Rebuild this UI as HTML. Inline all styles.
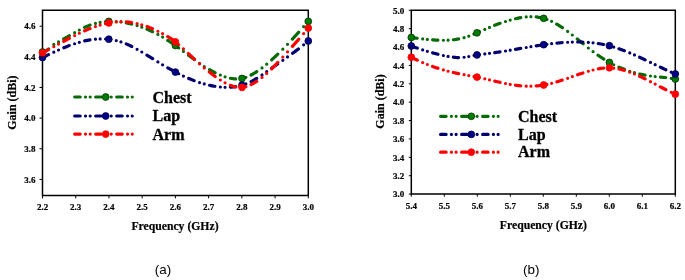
<!DOCTYPE html>
<html><head><meta charset="utf-8"><style>
html,body{margin:0;padding:0;background:#fff;}
body{width:685px;height:280px;overflow:hidden;}
svg{display:block;}
</style></head><body>
<svg width="685" height="280" viewBox="0 0 685 280">
<rect width="685" height="280" fill="#fff"/>
<path d="M42.50,10.30 H308.30 V195.40 H42.50 Z" fill="none" stroke="#000" stroke-width="1.5"/>
<path d="M42.88,51.99 L44.29,51.67 L45.70,51.00 L47.11,50.05 L48.52,48.91 M53.80,44.47h0.01 M58.50,41.81h0.01 M63.70,38.97 L65.11,38.17 L66.52,37.35 L67.93,36.53 L69.34,35.71 M74.62,32.64h0.01 M79.32,30.04h0.01 M84.62,27.38 L85.98,26.76 L87.34,26.18 L88.70,25.63 L90.06,25.11 M95.44,23.43h0.01 M100.14,22.39h0.01 M105.56,21.66 L106.86,21.55 L108.16,21.47 L109.46,21.42 L110.76,21.40 M116.26,21.55h0.01 M120.96,22.01h0.01 M126.34,22.88 L127.66,23.14 L128.98,23.43 L130.30,23.73 L131.62,24.05 M137.08,25.58h0.01 M141.78,27.15h0.01 M147.06,29.22 L148.43,29.81 L149.80,30.41 L151.17,31.04 L152.54,31.69 M157.90,34.44h0.01 M162.60,37.12h0.01 M167.75,40.34 L169.18,41.28 L170.62,42.24 L172.06,43.22 L173.49,44.22 M178.72,47.94h0.01 M183.42,51.39h0.01 M188.52,55.20 L189.98,56.29 L191.44,57.38 L192.90,58.47 L194.36,59.55 M199.54,63.29h0.01 M204.24,66.49h0.01 M209.47,69.72 L210.87,70.51 L212.26,71.27 L213.65,72.00 L215.05,72.70 M220.36,75.09h0.01 M225.06,76.83h0.01 M230.47,78.26 L231.77,78.49 L233.08,78.67 L234.39,78.80 L235.69,78.87 M241.18,78.52h0.01 M245.88,77.30h0.01 M251.08,75.02 L252.49,74.26 L253.90,73.45 L255.31,72.59 L256.72,71.69 M262.00,67.96h0.01 M266.70,64.22h0.01 M271.69,59.89 L272.90,58.79 L274.11,57.67 L275.33,56.53 L276.54,55.37 L277.75,54.20 M282.82,49.17h0.01 M287.52,44.32h0.01 M292.42,39.11 L293.67,37.76 L294.92,36.40 L296.16,35.04 L297.41,33.66 L298.66,32.28 M303.64,26.70h0.01" fill="none" stroke="#066a06" stroke-width="3.2" stroke-linecap="round" stroke-linejoin="round"/>
<circle cx="42.50" cy="52.00" r="3.4" fill="#007a00" stroke="#003800" stroke-width="0.8"/>
<circle cx="108.80" cy="21.40" r="3.4" fill="#007a00" stroke="#003800" stroke-width="0.8"/>
<circle cx="175.40" cy="45.50" r="3.4" fill="#007a00" stroke="#003800" stroke-width="0.8"/>
<circle cx="242.00" cy="78.40" r="3.4" fill="#007a00" stroke="#003800" stroke-width="0.8"/>
<circle cx="308.30" cy="21.40" r="3.4" fill="#007a00" stroke="#003800" stroke-width="0.8"/>
<path d="M42.94,57.40 L44.32,56.71 L45.70,56.03 L47.08,55.35 L48.46,54.68 M53.80,52.14h0.01 M58.50,50.01h0.01 M63.81,47.74 L65.16,47.19 L66.52,46.65 L67.88,46.13 L69.23,45.62 M74.62,43.73h0.01 M79.32,42.30h0.01 M84.71,40.93 L86.03,40.64 L87.34,40.37 L88.65,40.13 L89.97,39.90 M95.44,39.20h0.01 M100.14,38.92h0.01 M105.55,39.01 L106.86,39.09 L108.16,39.21 L109.46,39.35 L110.77,39.53 M116.26,40.58h0.01 M120.96,41.91h0.01 M126.23,43.90 L127.61,44.50 L128.98,45.12 L130.35,45.77 L131.73,46.45 M137.08,49.30h0.01 M141.78,52.01h0.01 M146.96,55.16 L148.38,56.04 L149.80,56.92 L151.22,57.80 L152.64,58.69 M157.90,61.94h0.01 M162.60,64.78h0.01 M167.82,67.84 L169.22,68.64 L170.62,69.43 L172.02,70.21 L173.42,70.98 M178.72,73.77h0.01 M183.42,76.08h0.01 M188.72,78.46 L190.08,79.03 L191.44,79.58 L192.80,80.12 L194.16,80.64 M199.54,82.53h0.01 M204.24,83.94h0.01 M209.63,85.28 L210.95,85.56 L212.26,85.82 L213.57,86.07 L214.89,86.29 M220.36,86.99h0.01 M225.06,87.28h0.01 M230.47,87.19 L231.78,87.10 L233.08,86.97 L234.38,86.81 L235.69,86.62 M241.18,85.44h0.01 M245.88,83.90h0.01 M251.09,81.58 L252.49,80.84 L253.90,80.06 L255.31,79.23 L256.71,78.37 M262.00,74.90h0.01 M266.70,71.63h0.01 M271.83,68.02 L273.27,67.01 L274.72,65.99 L276.17,64.97 L277.61,63.95 M282.82,60.28h0.01 M287.52,56.96h0.01 M292.62,53.29 L294.08,52.22 L295.54,51.14 L297.00,50.05 L298.46,48.94 M303.64,44.87h0.01" fill="none" stroke="#00006e" stroke-width="3.2" stroke-linecap="round" stroke-linejoin="round"/>
<circle cx="42.50" cy="57.60" r="3.4" fill="#000088" stroke="#000040" stroke-width="0.8"/>
<circle cx="108.80" cy="39.20" r="3.4" fill="#000088" stroke="#000040" stroke-width="0.8"/>
<circle cx="175.40" cy="72.10" r="3.4" fill="#000088" stroke="#000040" stroke-width="0.8"/>
<circle cx="242.00" cy="85.20" r="3.4" fill="#000088" stroke="#000040" stroke-width="0.8"/>
<circle cx="308.30" cy="41.00" r="3.4" fill="#000088" stroke="#000040" stroke-width="0.8"/>
<path d="M42.90,52.70 L44.30,51.94 L45.70,51.18 L47.10,50.42 L48.50,49.65 M53.80,46.72h0.01 M58.50,44.12h0.01 M63.73,41.26 L65.13,40.50 L66.52,39.75 L67.91,39.01 L69.31,38.28 M74.62,35.55h0.01 M79.32,33.25h0.01 M84.62,30.82 L85.98,30.23 L87.34,29.65 L88.70,29.09 L90.06,28.54 M95.44,26.55h0.01 M100.14,25.04h0.01 M105.53,23.62 L106.84,23.33 L108.16,23.06 L109.48,22.81 L110.79,22.58 M116.26,21.91h0.01 M120.96,21.69h0.01 M126.37,21.88 L127.67,21.99 L128.98,22.13 L130.29,22.30 L131.59,22.49 M137.08,23.56h0.01 M141.78,24.82h0.01 M147.09,26.58 L148.44,27.09 L149.80,27.62 L151.16,28.18 L152.51,28.75 M157.90,31.23h0.01 M162.60,33.66h0.01 M167.75,36.60 L169.19,37.49 L170.62,38.43 L172.05,39.40 L173.49,40.42 M178.72,44.60h0.01 M183.42,48.83h0.01 M188.40,53.55 L189.62,54.71 L190.83,55.86 L192.05,57.00 L193.26,58.14 L194.48,59.27 M199.54,63.86h0.01 M204.24,67.93h0.01 M209.34,72.08 L210.80,73.22 L212.26,74.33 L213.72,75.41 L215.18,76.47 M220.36,79.98h0.01 M225.06,82.78h0.01 M230.41,85.34 L231.74,85.84 L233.08,86.28 L234.42,86.66 L235.75,86.97 M241.18,87.41h0.01 M245.88,86.64h0.01 M251.08,84.62 L252.49,83.89 L253.90,83.10 L255.31,82.24 L256.72,81.32 M262.00,77.42h0.01 M266.70,73.42h0.01 M271.64,68.76 L272.87,67.54 L274.10,66.30 L275.34,65.04 L276.57,63.76 L277.80,62.47 M282.82,57.06h0.01 M287.52,51.86h0.01 M292.40,46.40 L293.65,44.98 L294.91,43.55 L296.17,42.13 L297.43,40.69 L298.68,39.25 M303.64,33.54h0.01" fill="none" stroke="#ff0000" stroke-width="3.2" stroke-linecap="round" stroke-linejoin="round"/>
<circle cx="42.50" cy="52.90" r="3.4" fill="#ff0000" stroke="#ff0000" stroke-width="0.8"/>
<circle cx="108.80" cy="22.90" r="3.4" fill="#ff0000" stroke="#ff0000" stroke-width="0.8"/>
<circle cx="175.40" cy="41.80" r="3.4" fill="#ff0000" stroke="#ff0000" stroke-width="0.8"/>
<circle cx="242.00" cy="87.40" r="3.4" fill="#ff0000" stroke="#ff0000" stroke-width="0.8"/>
<circle cx="308.30" cy="28.10" r="3.4" fill="#ff0000" stroke="#ff0000" stroke-width="0.8"/>
<line x1="42.50" y1="195.40" x2="42.50" y2="198.40" stroke="#000" stroke-width="1"/>
<text x="42.50" y="210.30" text-anchor="middle" font-size="9" font-weight="bold" stroke="#000" stroke-width="0.2" font-family="'Liberation Serif', serif">2.2</text>
<line x1="75.72" y1="195.40" x2="75.72" y2="198.40" stroke="#000" stroke-width="1"/>
<text x="75.72" y="210.30" text-anchor="middle" font-size="9" font-weight="bold" stroke="#000" stroke-width="0.2" font-family="'Liberation Serif', serif">2.3</text>
<line x1="108.95" y1="195.40" x2="108.95" y2="198.40" stroke="#000" stroke-width="1"/>
<text x="108.95" y="210.30" text-anchor="middle" font-size="9" font-weight="bold" stroke="#000" stroke-width="0.2" font-family="'Liberation Serif', serif">2.4</text>
<line x1="142.18" y1="195.40" x2="142.18" y2="198.40" stroke="#000" stroke-width="1"/>
<text x="142.18" y="210.30" text-anchor="middle" font-size="9" font-weight="bold" stroke="#000" stroke-width="0.2" font-family="'Liberation Serif', serif">2.5</text>
<line x1="175.40" y1="195.40" x2="175.40" y2="198.40" stroke="#000" stroke-width="1"/>
<text x="175.40" y="210.30" text-anchor="middle" font-size="9" font-weight="bold" stroke="#000" stroke-width="0.2" font-family="'Liberation Serif', serif">2.6</text>
<line x1="208.62" y1="195.40" x2="208.62" y2="198.40" stroke="#000" stroke-width="1"/>
<text x="208.62" y="210.30" text-anchor="middle" font-size="9" font-weight="bold" stroke="#000" stroke-width="0.2" font-family="'Liberation Serif', serif">2.7</text>
<line x1="241.85" y1="195.40" x2="241.85" y2="198.40" stroke="#000" stroke-width="1"/>
<text x="241.85" y="210.30" text-anchor="middle" font-size="9" font-weight="bold" stroke="#000" stroke-width="0.2" font-family="'Liberation Serif', serif">2.8</text>
<line x1="275.08" y1="195.40" x2="275.08" y2="198.40" stroke="#000" stroke-width="1"/>
<text x="275.08" y="210.30" text-anchor="middle" font-size="9" font-weight="bold" stroke="#000" stroke-width="0.2" font-family="'Liberation Serif', serif">2.9</text>
<line x1="308.30" y1="195.40" x2="308.30" y2="198.40" stroke="#000" stroke-width="1"/>
<text x="308.30" y="210.30" text-anchor="middle" font-size="9" font-weight="bold" stroke="#000" stroke-width="0.2" font-family="'Liberation Serif', serif">3.0</text>
<line x1="39.50" y1="179.40" x2="42.50" y2="179.40" stroke="#000" stroke-width="1"/>
<text x="35.50" y="182.60" text-anchor="end" font-size="9" font-weight="bold" stroke="#000" stroke-width="0.2" font-family="'Liberation Serif', serif">3.6</text>
<line x1="39.50" y1="148.76" x2="42.50" y2="148.76" stroke="#000" stroke-width="1"/>
<text x="35.50" y="151.96" text-anchor="end" font-size="9" font-weight="bold" stroke="#000" stroke-width="0.2" font-family="'Liberation Serif', serif">3.8</text>
<line x1="39.50" y1="118.12" x2="42.50" y2="118.12" stroke="#000" stroke-width="1"/>
<text x="35.50" y="121.32" text-anchor="end" font-size="9" font-weight="bold" stroke="#000" stroke-width="0.2" font-family="'Liberation Serif', serif">4.0</text>
<line x1="39.50" y1="87.48" x2="42.50" y2="87.48" stroke="#000" stroke-width="1"/>
<text x="35.50" y="90.68" text-anchor="end" font-size="9" font-weight="bold" stroke="#000" stroke-width="0.2" font-family="'Liberation Serif', serif">4.2</text>
<line x1="39.50" y1="56.84" x2="42.50" y2="56.84" stroke="#000" stroke-width="1"/>
<text x="35.50" y="60.04" text-anchor="end" font-size="9" font-weight="bold" stroke="#000" stroke-width="0.2" font-family="'Liberation Serif', serif">4.4</text>
<line x1="39.50" y1="26.20" x2="42.50" y2="26.20" stroke="#000" stroke-width="1"/>
<text x="35.50" y="29.40" text-anchor="end" font-size="9" font-weight="bold" stroke="#000" stroke-width="0.2" font-family="'Liberation Serif', serif">4.6</text>
<text x="175.00" y="229.60" text-anchor="middle" font-size="11.7" font-weight="bold" stroke="#000" stroke-width="0.2" font-family="'Liberation Serif', serif">Frequency (GHz)</text>
<text transform="translate(15.90,102.60) rotate(-90)" text-anchor="middle" font-size="12" font-weight="bold" stroke="#000" stroke-width="0.2" font-family="'Liberation Serif', serif">Gain (dBi)</text>
<line x1="74.70" y1="97.00" x2="133.00" y2="97.00" stroke="#066a06" stroke-width="3.2" stroke-dasharray="5.5 5.3 0.01 4.69 0.01 5.5" stroke-linecap="round"/>
<circle cx="105.70" cy="97.00" r="3.4" fill="#007a00" stroke="#003800" stroke-width="0.8"/>
<text x="152.50" y="102.80" font-size="16" font-weight="bold" stroke="#000" stroke-width="0.3" font-family="'Liberation Serif', serif">Chest</text>
<line x1="74.70" y1="116.00" x2="133.00" y2="116.00" stroke="#00006e" stroke-width="3.2" stroke-dasharray="5.5 5.3 0.01 4.69 0.01 5.5" stroke-linecap="round"/>
<circle cx="105.70" cy="116.00" r="3.4" fill="#000088" stroke="#000040" stroke-width="0.8"/>
<text x="152.50" y="121.20" font-size="16" font-weight="bold" stroke="#000" stroke-width="0.3" font-family="'Liberation Serif', serif">Lap</text>
<line x1="74.70" y1="134.10" x2="133.00" y2="134.10" stroke="#ff0000" stroke-width="3.2" stroke-dasharray="5.5 5.3 0.01 4.69 0.01 5.5" stroke-linecap="round"/>
<circle cx="105.70" cy="134.10" r="3.4" fill="#ff0000" stroke="#ff0000" stroke-width="0.8"/>
<text x="152.50" y="139.80" font-size="16" font-weight="bold" stroke="#000" stroke-width="0.3" font-family="'Liberation Serif', serif">Arm</text>
<text x="163.00" y="273.70" text-anchor="middle" font-size="13.4" font-family="'Liberation Sans', sans-serif">(a)</text>
<path d="M411.30,10.30 H675.30 V194.10 H411.30 Z" fill="none" stroke="#000" stroke-width="1.5"/>
<path d="M411.95,37.59 L413.25,37.76 L414.56,37.92 L415.87,38.09 L417.17,38.25 M422.66,38.91h0.01 M427.36,39.41h0.01 M432.67,39.87 L433.97,39.96 L435.27,40.04 L436.57,40.10 L437.87,40.16 M443.37,40.26h0.01 M448.07,40.14h0.01 M453.36,39.73 L454.67,39.58 L455.98,39.40 L457.29,39.19 L458.60,38.96 M464.08,37.68h0.01 M468.78,36.15h0.01 M473.96,34.13 L475.32,33.55 L476.69,32.96 L478.06,32.36 L479.42,31.76 M484.79,29.39h0.01 M489.49,27.39h0.01 M494.70,25.30 L496.05,24.78 L497.40,24.28 L498.75,23.78 L500.10,23.30 M505.50,21.49h0.01 M510.20,20.09h0.01 M515.48,18.74 L516.79,18.44 L518.11,18.16 L519.43,17.90 L520.74,17.66 M526.21,16.93h0.01 M530.91,16.69h0.01 M536.20,16.96 L537.51,17.12 L538.82,17.31 L540.13,17.55 L541.44,17.82 M546.92,19.40h0.01 M551.62,21.35h0.01 M556.68,24.06 L558.10,24.92 L559.53,25.82 L560.96,26.75 L562.38,27.70 M567.63,31.43h0.01 M572.33,35.01h0.01 M577.28,38.99 L578.76,40.20 L580.24,41.42 L581.72,42.64 L583.20,43.85 M588.34,48.00h0.01 M593.04,51.63h0.01 M598.08,55.28 L599.52,56.27 L600.95,57.24 L602.38,58.19 L603.82,59.11 M609.05,62.25h0.01 M613.75,64.76h0.01 M618.95,67.18 L620.30,67.76 L621.66,68.31 L623.02,68.85 L624.37,69.36 M629.76,71.25h0.01 M634.46,72.71h0.01 M639.74,74.10 L641.05,74.40 L642.37,74.68 L643.69,74.93 L645.00,75.17 M650.47,76.01h0.01 M655.17,76.57h0.01 M660.47,77.11 L661.78,77.25 L663.08,77.38 L664.38,77.52 L665.69,77.66 M671.18,78.35h0.01" fill="none" stroke="#066a06" stroke-width="3.2" stroke-linecap="round" stroke-linejoin="round"/>
<circle cx="411.30" cy="37.50" r="3.4" fill="#007a00" stroke="#003800" stroke-width="0.8"/>
<circle cx="477.00" cy="32.80" r="3.4" fill="#007a00" stroke="#003800" stroke-width="0.8"/>
<circle cx="543.70" cy="18.30" r="3.4" fill="#007a00" stroke="#003800" stroke-width="0.8"/>
<circle cx="609.40" cy="62.40" r="3.4" fill="#007a00" stroke="#003800" stroke-width="0.8"/>
<circle cx="675.30" cy="79.00" r="3.4" fill="#007a00" stroke="#003800" stroke-width="0.8"/>
<path d="M411.87,46.21 L413.21,46.69 L414.56,47.17 L415.91,47.64 L417.25,48.11 M422.66,49.89h0.01 M427.36,51.33h0.01 M432.62,52.84 L433.94,53.20 L435.27,53.55 L436.60,53.89 L437.92,54.23 M443.37,55.49h0.01 M448.07,56.41h0.01 M453.38,57.22 L454.68,57.35 L455.98,57.46 L457.28,57.53 L458.58,57.57 M464.08,57.27h0.01 M468.78,56.53h0.01 M474.07,55.50 L475.38,55.25 L476.69,55.03 L478.00,54.82 L479.31,54.64 M484.79,53.97h0.01 M489.49,53.37h0.01 M494.78,52.64 L496.09,52.44 L497.40,52.25 L498.71,52.05 L500.02,51.85 M505.50,50.98h0.01 M510.20,50.20h0.01 M515.49,49.31 L516.80,49.08 L518.11,48.86 L519.42,48.64 L520.73,48.41 M526.21,47.49h0.01 M530.91,46.71h0.01 M536.20,45.86 L537.51,45.66 L538.82,45.46 L540.13,45.26 L541.44,45.06 M546.92,44.29h0.01 M551.62,43.69h0.01 M556.92,43.10 L558.23,42.97 L559.53,42.85 L560.83,42.73 L562.14,42.62 M567.63,42.25h0.01 M572.33,42.06h0.01 M577.64,41.98 L578.94,41.99 L580.24,42.01 L581.54,42.04 L582.84,42.08 M588.34,42.39h0.01 M593.04,42.84h0.01 M598.32,43.55 L599.64,43.77 L600.95,44.00 L602.26,44.24 L603.58,44.50 M609.05,45.77h0.01 M613.75,47.09h0.01 M618.96,48.79 L620.31,49.26 L621.66,49.75 L623.01,50.25 L624.36,50.77 M629.76,52.94h0.01 M634.46,54.96h0.01 M639.62,57.29 L640.99,57.93 L642.37,58.57 L643.75,59.22 L645.12,59.87 M650.47,62.43h0.01 M655.17,64.69h0.01 M660.33,67.17 L661.70,67.82 L663.08,68.47 L664.46,69.12 L665.83,69.77 M671.18,72.21h0.01" fill="none" stroke="#00006e" stroke-width="3.2" stroke-linecap="round" stroke-linejoin="round"/>
<circle cx="411.30" cy="46.00" r="3.4" fill="#000088" stroke="#000040" stroke-width="0.8"/>
<circle cx="477.00" cy="54.90" r="3.4" fill="#000088" stroke="#000040" stroke-width="0.8"/>
<circle cx="543.70" cy="44.70" r="3.4" fill="#000088" stroke="#000040" stroke-width="0.8"/>
<circle cx="609.40" cy="45.70" r="3.4" fill="#000088" stroke="#000040" stroke-width="0.8"/>
<circle cx="675.30" cy="74.00" r="3.4" fill="#000088" stroke="#000040" stroke-width="0.8"/>
<path d="M411.80,57.49 L413.18,58.19 L414.56,58.87 L415.94,59.53 L417.32,60.18 M422.66,62.57h0.01 M427.36,64.51h0.01 M432.58,66.48 L433.93,66.95 L435.27,67.42 L436.61,67.87 L437.96,68.31 M443.37,69.96h0.01 M448.07,71.23h0.01 M453.34,72.49 L454.66,72.78 L455.98,73.07 L457.30,73.35 L458.62,73.62 M464.08,74.71h0.01 M468.78,75.62h0.01 M474.06,76.65 L475.37,76.90 L476.69,77.17 L478.01,77.43 L479.32,77.70 M484.79,78.86h0.01 M489.49,79.92h0.01 M494.76,81.14 L496.08,81.44 L497.40,81.75 L498.72,82.05 L500.04,82.34 M505.50,83.51h0.01 M510.20,84.40h0.01 M515.50,85.22 L516.81,85.39 L518.11,85.54 L519.41,85.68 L520.72,85.80 M526.21,86.13h0.01 M530.91,86.17h0.01 M536.21,85.93 L537.52,85.82 L538.82,85.69 L540.12,85.53 L541.43,85.36 M546.92,84.40h0.01 M551.62,83.30h0.01 M556.85,81.83 L558.19,81.42 L559.53,81.00 L560.87,80.57 L562.21,80.13 M567.63,78.28h0.01 M572.33,76.62h0.01 M577.56,74.78 L578.90,74.32 L580.24,73.86 L581.58,73.41 L582.92,72.96 M588.34,71.27h0.01 M593.04,70.00h0.01 M598.33,68.86 L599.64,68.64 L600.95,68.44 L602.26,68.27 L603.57,68.13 M609.05,67.89h0.01 M613.75,68.18h0.01 M619.01,69.02 L620.34,69.31 L621.66,69.62 L622.98,69.97 L624.31,70.34 M629.76,72.13h0.01 M634.46,73.98h0.01 M639.61,76.25 L640.99,76.89 L642.37,77.55 L643.75,78.23 L645.13,78.91 M650.47,81.63h0.01 M655.17,84.10h0.01 M660.30,86.80 L661.69,87.53 L663.08,88.25 L664.47,88.97 L665.86,89.68 M671.18,92.31h0.01" fill="none" stroke="#ff0000" stroke-width="3.2" stroke-linecap="round" stroke-linejoin="round"/>
<circle cx="411.30" cy="57.25" r="3.4" fill="#ff0000" stroke="#ff0000" stroke-width="0.8"/>
<circle cx="477.00" cy="77.10" r="3.4" fill="#ff0000" stroke="#ff0000" stroke-width="0.8"/>
<circle cx="543.70" cy="85.00" r="3.4" fill="#ff0000" stroke="#ff0000" stroke-width="0.8"/>
<circle cx="609.40" cy="67.80" r="3.4" fill="#ff0000" stroke="#ff0000" stroke-width="0.8"/>
<circle cx="675.30" cy="94.20" r="3.4" fill="#ff0000" stroke="#ff0000" stroke-width="0.8"/>
<line x1="411.30" y1="194.10" x2="411.30" y2="196.70" stroke="#000" stroke-width="1"/>
<text x="411.30" y="209.00" text-anchor="middle" font-size="9" font-weight="bold" stroke="#000" stroke-width="0.2" font-family="'Liberation Serif', serif">5.4</text>
<line x1="444.30" y1="194.10" x2="444.30" y2="196.70" stroke="#000" stroke-width="1"/>
<text x="444.30" y="209.00" text-anchor="middle" font-size="9" font-weight="bold" stroke="#000" stroke-width="0.2" font-family="'Liberation Serif', serif">5.5</text>
<line x1="477.30" y1="194.10" x2="477.30" y2="196.70" stroke="#000" stroke-width="1"/>
<text x="477.30" y="209.00" text-anchor="middle" font-size="9" font-weight="bold" stroke="#000" stroke-width="0.2" font-family="'Liberation Serif', serif">5.6</text>
<line x1="510.30" y1="194.10" x2="510.30" y2="196.70" stroke="#000" stroke-width="1"/>
<text x="510.30" y="209.00" text-anchor="middle" font-size="9" font-weight="bold" stroke="#000" stroke-width="0.2" font-family="'Liberation Serif', serif">5.7</text>
<line x1="543.30" y1="194.10" x2="543.30" y2="196.70" stroke="#000" stroke-width="1"/>
<text x="543.30" y="209.00" text-anchor="middle" font-size="9" font-weight="bold" stroke="#000" stroke-width="0.2" font-family="'Liberation Serif', serif">5.8</text>
<line x1="576.30" y1="194.10" x2="576.30" y2="196.70" stroke="#000" stroke-width="1"/>
<text x="576.30" y="209.00" text-anchor="middle" font-size="9" font-weight="bold" stroke="#000" stroke-width="0.2" font-family="'Liberation Serif', serif">5.9</text>
<line x1="609.30" y1="194.10" x2="609.30" y2="196.70" stroke="#000" stroke-width="1"/>
<text x="609.30" y="209.00" text-anchor="middle" font-size="9" font-weight="bold" stroke="#000" stroke-width="0.2" font-family="'Liberation Serif', serif">6.0</text>
<line x1="642.30" y1="194.10" x2="642.30" y2="196.70" stroke="#000" stroke-width="1"/>
<text x="642.30" y="209.00" text-anchor="middle" font-size="9" font-weight="bold" stroke="#000" stroke-width="0.2" font-family="'Liberation Serif', serif">6.1</text>
<line x1="675.30" y1="194.10" x2="675.30" y2="196.70" stroke="#000" stroke-width="1"/>
<text x="675.30" y="209.00" text-anchor="middle" font-size="9" font-weight="bold" stroke="#000" stroke-width="0.2" font-family="'Liberation Serif', serif">6.2</text>
<line x1="408.80" y1="194.10" x2="411.30" y2="194.10" stroke="#000" stroke-width="1"/>
<text x="404.20" y="197.30" text-anchor="end" font-size="9" font-weight="bold" stroke="#000" stroke-width="0.2" font-family="'Liberation Serif', serif">3.0</text>
<line x1="408.80" y1="175.72" x2="411.30" y2="175.72" stroke="#000" stroke-width="1"/>
<text x="404.20" y="178.92" text-anchor="end" font-size="9" font-weight="bold" stroke="#000" stroke-width="0.2" font-family="'Liberation Serif', serif">3.2</text>
<line x1="408.80" y1="157.34" x2="411.30" y2="157.34" stroke="#000" stroke-width="1"/>
<text x="404.20" y="160.54" text-anchor="end" font-size="9" font-weight="bold" stroke="#000" stroke-width="0.2" font-family="'Liberation Serif', serif">3.4</text>
<line x1="408.80" y1="138.96" x2="411.30" y2="138.96" stroke="#000" stroke-width="1"/>
<text x="404.20" y="142.16" text-anchor="end" font-size="9" font-weight="bold" stroke="#000" stroke-width="0.2" font-family="'Liberation Serif', serif">3.6</text>
<line x1="408.80" y1="120.58" x2="411.30" y2="120.58" stroke="#000" stroke-width="1"/>
<text x="404.20" y="123.78" text-anchor="end" font-size="9" font-weight="bold" stroke="#000" stroke-width="0.2" font-family="'Liberation Serif', serif">3.8</text>
<line x1="408.80" y1="102.20" x2="411.30" y2="102.20" stroke="#000" stroke-width="1"/>
<text x="404.20" y="105.40" text-anchor="end" font-size="9" font-weight="bold" stroke="#000" stroke-width="0.2" font-family="'Liberation Serif', serif">4.0</text>
<line x1="408.80" y1="83.82" x2="411.30" y2="83.82" stroke="#000" stroke-width="1"/>
<text x="404.20" y="87.02" text-anchor="end" font-size="9" font-weight="bold" stroke="#000" stroke-width="0.2" font-family="'Liberation Serif', serif">4.2</text>
<line x1="408.80" y1="65.44" x2="411.30" y2="65.44" stroke="#000" stroke-width="1"/>
<text x="404.20" y="68.64" text-anchor="end" font-size="9" font-weight="bold" stroke="#000" stroke-width="0.2" font-family="'Liberation Serif', serif">4.4</text>
<line x1="408.80" y1="47.06" x2="411.30" y2="47.06" stroke="#000" stroke-width="1"/>
<text x="404.20" y="50.26" text-anchor="end" font-size="9" font-weight="bold" stroke="#000" stroke-width="0.2" font-family="'Liberation Serif', serif">4.6</text>
<line x1="408.80" y1="28.68" x2="411.30" y2="28.68" stroke="#000" stroke-width="1"/>
<text x="404.20" y="31.88" text-anchor="end" font-size="9" font-weight="bold" stroke="#000" stroke-width="0.2" font-family="'Liberation Serif', serif">4.8</text>
<line x1="408.80" y1="10.30" x2="411.30" y2="10.30" stroke="#000" stroke-width="1"/>
<text x="404.20" y="13.50" text-anchor="end" font-size="9" font-weight="bold" stroke="#000" stroke-width="0.2" font-family="'Liberation Serif', serif">5.0</text>
<text x="543.40" y="229.30" text-anchor="middle" font-size="11.7" font-weight="bold" stroke="#000" stroke-width="0.2" font-family="'Liberation Serif', serif">Frequency (GHz)</text>
<text transform="translate(384.40,101.50) rotate(-90)" text-anchor="middle" font-size="12" font-weight="bold" stroke="#000" stroke-width="0.2" font-family="'Liberation Serif', serif">Gain (dBi)</text>
<line x1="440.60" y1="116.30" x2="499.00" y2="116.30" stroke="#066a06" stroke-width="3.2" stroke-dasharray="5.5 5.3 0.01 4.69 0.01 5.5" stroke-linecap="round"/>
<circle cx="471.30" cy="116.30" r="3.4" fill="#007a00" stroke="#003800" stroke-width="0.8"/>
<text x="518.00" y="121.60" font-size="16" font-weight="bold" stroke="#000" stroke-width="0.3" font-family="'Liberation Serif', serif">Chest</text>
<line x1="440.60" y1="134.40" x2="499.00" y2="134.40" stroke="#00006e" stroke-width="3.2" stroke-dasharray="5.5 5.3 0.01 4.69 0.01 5.5" stroke-linecap="round"/>
<circle cx="471.30" cy="134.40" r="3.4" fill="#000088" stroke="#000040" stroke-width="0.8"/>
<text x="518.00" y="140.00" font-size="16" font-weight="bold" stroke="#000" stroke-width="0.3" font-family="'Liberation Serif', serif">Lap</text>
<line x1="440.60" y1="152.20" x2="499.00" y2="152.20" stroke="#ff0000" stroke-width="3.2" stroke-dasharray="5.5 5.3 0.01 4.69 0.01 5.5" stroke-linecap="round"/>
<circle cx="471.30" cy="152.20" r="3.4" fill="#ff0000" stroke="#ff0000" stroke-width="0.8"/>
<text x="518.00" y="156.90" font-size="16" font-weight="bold" stroke="#000" stroke-width="0.3" font-family="'Liberation Serif', serif">Arm</text>
<text x="531.20" y="273.70" text-anchor="middle" font-size="13.4" font-family="'Liberation Sans', sans-serif">(b)</text>
</svg>
</body></html>
